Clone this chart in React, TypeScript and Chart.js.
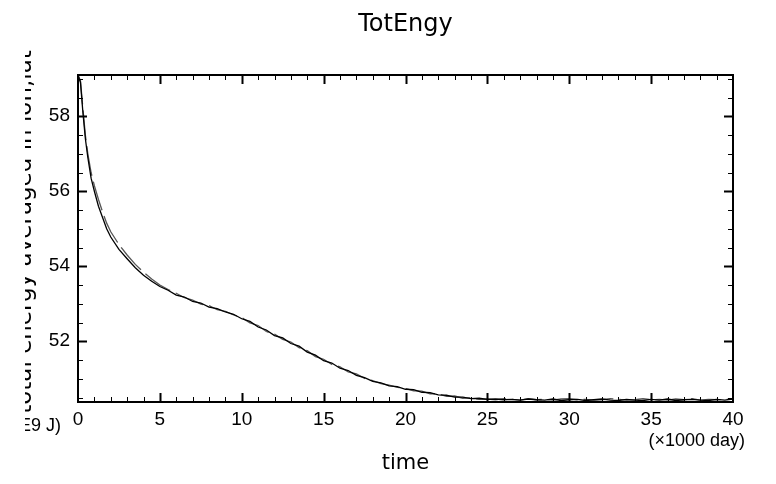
import React, { useEffect, useRef } from "react";
import { Chart, registerables } from "chart.js";

Chart.register(...registerables);

const TITLE = "TotEngy";
const X_TITLE = "time";
const X_UNIT = "(×1000 day)";
const Y_TITLE = "total energy averaged in lon,lat";
const Y_UNIT = "(1E9 J)";

const X_TICKS = [0, 5, 10, 15, 20, 25, 30, 35, 40];
const Y_TICKS = [52, 54, 56, 58];
const X_MIN = 0;
const X_MAX = 40;
const Y_MIN = 50.38;
const Y_MAX = 59.1;

const TIME = [
  0, 0.15, 0.3, 0.45, 0.6, 0.8, 1, 1.25, 1.5, 1.75, 2,
  2.5, 3, 3.5, 4, 4.5, 5, 5.5, 6, 6.5, 7, 7.5, 8, 8.5, 9, 9.5, 10,
  10.5, 11, 11.5, 12, 12.5, 13, 13.5, 14, 14.5, 15, 15.5, 16, 16.5, 17, 17.5, 18,
  18.5, 19, 19.5, 20, 20.5, 21, 21.5, 22, 22.5, 23, 23.5, 24, 24.5, 25,
  25.5, 26, 26.5, 27, 27.5, 28, 28.5, 29, 29.5, 30, 30.5, 31, 31.5, 32, 32.5,
  33, 33.5, 34, 34.5, 35, 35.5, 36, 36.5, 37, 37.5, 38, 38.5, 39, 39.5, 40,
];

const RUN_A = [
  59.1, 58.9, 58.1, 57.4, 56.9, 56.35, 56.0, 55.6, 55.3, 55.0, 54.78,
  54.45, 54.2, 53.96, 53.76, 53.6, 53.46, 53.36, 53.23, 53.18, 53.06, 53.02, 52.91, 52.87, 52.78, 52.72, 52.6,
  52.53, 52.38, 52.3, 52.15, 52.09, 51.94, 51.87, 51.71, 51.63, 51.48, 51.42, 51.28, 51.22, 51.09, 51.03, 50.93,
  50.89, 50.81, 50.79, 50.72, 50.71, 50.64, 50.63, 50.57, 50.56, 50.51, 50.51, 50.47, 50.48, 50.45,
  50.46, 50.44, 50.45, 50.43, 50.46, 50.44, 50.43, 50.46, 50.42, 50.44, 50.45, 50.42, 50.44, 50.46, 50.43,
  50.42, 50.45, 50.43, 50.42, 50.45, 50.43, 50.46, 50.42, 50.44, 50.45, 50.43, 50.42, 50.45, 50.43, 50.46,
];

const RUN_B = [
  59.1, 58.95, 58.2, 57.5, 57.0, 56.5, 56.15, 55.78, 55.45, 55.15, 54.92,
  54.58, 54.3, 54.05, 53.84, 53.66, 53.5, 53.38, 53.28, 53.16, 53.1, 52.99, 52.95, 52.84, 52.8, 52.7, 52.63,
  52.49, 52.42, 52.26, 52.19, 52.05, 51.98, 51.83, 51.75, 51.59, 51.52, 51.38, 51.32, 51.18, 51.13, 51.01, 50.95,
  50.87, 50.83, 50.77, 50.74, 50.68, 50.67, 50.6, 50.6, 50.53, 50.54, 50.48, 50.49, 50.45, 50.46,
  50.44, 50.47, 50.45, 50.43, 50.47, 50.44, 50.45, 50.43, 50.46, 50.47, 50.44, 50.45, 50.43, 50.44, 50.47,
  50.45, 50.43, 50.44, 50.47, 50.44, 50.45, 50.43, 50.46, 50.44, 50.47, 50.43, 50.45, 50.44, 50.45, 50.46,
];

const FONT = "'DejaVu Sans', sans-serif";
const TICK_FONT = "'Liberation Sans', Arial, sans-serif";

const framePlugin = {
  id: "frameAndText",
  afterDraw(chart: any) {
    const { ctx, chartArea: a, scales } = chart;
    const xs = scales.x;
    const ys = scales.y;
    ctx.save();
    ctx.strokeStyle = "#000";
    ctx.lineWidth = 2;
    ctx.strokeRect(a.left, a.top, a.right - a.left, a.bottom - a.top);
    for (let v = X_MIN + 1; v < X_MAX; v += 1) {
      const major = X_TICKS.includes(v);
      const len = major ? 9 : 5;
      const px = Math.round(xs.getPixelForValue(v)) + 0.5;
      ctx.lineWidth = major ? 2 : 1;
      ctx.beginPath();
      ctx.moveTo(px, a.bottom);
      ctx.lineTo(px, a.bottom - len);
      ctx.moveTo(px, a.top);
      ctx.lineTo(px, a.top + len);
      ctx.stroke();
    }
    for (let k = 1; k * 0.5 + 50 < Y_MAX; k++) {
      const v = 50 + k * 0.5;
      if (v <= Y_MIN) continue;
      const major = Y_TICKS.includes(v);
      const len = major ? 9 : 5;
      const py = Math.round(ys.getPixelForValue(v)) + 0.5;
      ctx.lineWidth = major ? 2 : 1;
      ctx.beginPath();
      ctx.moveTo(a.left, py);
      ctx.lineTo(a.left + len, py);
      ctx.moveTo(a.right, py);
      ctx.lineTo(a.right - len, py);
      ctx.stroke();
    }
    const cx = (a.left + a.right) / 2;
    ctx.fillStyle = "#000";
    ctx.textAlign = "center";
    ctx.textBaseline = "alphabetic";
    ctx.font = `24px ${FONT}`;
    ctx.fillText(TITLE, cx, 31);
    ctx.font = `21px ${FONT}`;
    ctx.fillText(X_TITLE, cx, 469);
    ctx.textAlign = "right";
    ctx.font = `18px ${TICK_FONT}`;
    ctx.fillText(X_UNIT, a.right + 12, 446);
    ctx.beginPath();
    ctx.rect(25, 0, 60, chart.height);
    ctx.clip();
    ctx.font = `18px ${TICK_FONT}`;
    ctx.textAlign = "right";
    ctx.fillText(Y_UNIT, 61, 431);
    ctx.save();
    ctx.translate(31, 232);
    ctx.rotate(-Math.PI / 2);
    ctx.textAlign = "center";
    ctx.font = `23px ${FONT}`;
    ctx.fillText(Y_TITLE, 0, 0);
    ctx.restore();
    ctx.restore();
  },
};

export default function App() {
  const ref = useRef<HTMLCanvasElement | null>(null);
  useEffect(() => {
    if (!ref.current) return;
    const chart = new Chart(ref.current, {
      type: "line",
      data: {
        datasets: [
          {
            label: "run A",
            data: TIME.map((t, i) => ({ x: t, y: RUN_A[i] })),
            borderColor: "#000000",
            borderWidth: 1.3,
            pointRadius: 0,
            tension: 0,
            fill: false,
          },
          {
            label: "run B",
            data: TIME.map((t, i) => ({ x: t, y: RUN_B[i] })),
            borderColor: "#555555",
            borderWidth: 1.3,
            borderDash: [30, 6],
            pointRadius: 0,
            tension: 0,
            fill: false,
          },
        ],
      },
      options: {
        animation: false,
        responsive: false,
        maintainAspectRatio: false,
        layout: { padding: { left: 0, right: 43, top: 75, bottom: 0 } },
        plugins: {
          legend: { display: false },
          tooltip: { enabled: false },
          title: { display: false },
        },
        scales: {
          x: {
            type: "linear",
            min: X_MIN,
            max: X_MAX,
            afterBuildTicks: (s: any) => {
              s.ticks = X_TICKS.map((v) => ({ value: v }));
            },
            afterFit: (s: any) => {
              s.height = 82;
            },
            grid: { display: false, drawTicks: false },
            border: { display: false },
            ticks: {
              color: "#000",
              padding: 6,
              maxRotation: 0,
              autoSkip: false,
              font: { family: TICK_FONT, size: 19 },
              callback: (v: any) => String(v),
            },
          },
          y: {
            type: "linear",
            min: Y_MIN,
            max: Y_MAX,
            afterBuildTicks: (s: any) => {
              s.ticks = Y_TICKS.map((v) => ({ value: v }));
            },
            afterFit: (s: any) => {
              s.width = 78;
            },
            grid: { display: false, drawTicks: false },
            border: { display: false },
            ticks: {
              color: "#000",
              padding: 8,
              autoSkip: false,
              font: { family: TICK_FONT, size: 19 },
              callback: (v: any) => String(v),
            },
          },
        },
      },
      plugins: [framePlugin],
    });
    return () => chart.destroy();
  }, []);
  return (
    <div style={{ position: "fixed", left: 0, top: 0, width: 776, height: 484, background: "#fff" }}>
      <canvas ref={ref} width={776} height={484} style={{ width: 776, height: 484, display: "block" }} />
    </div>
  );
}
